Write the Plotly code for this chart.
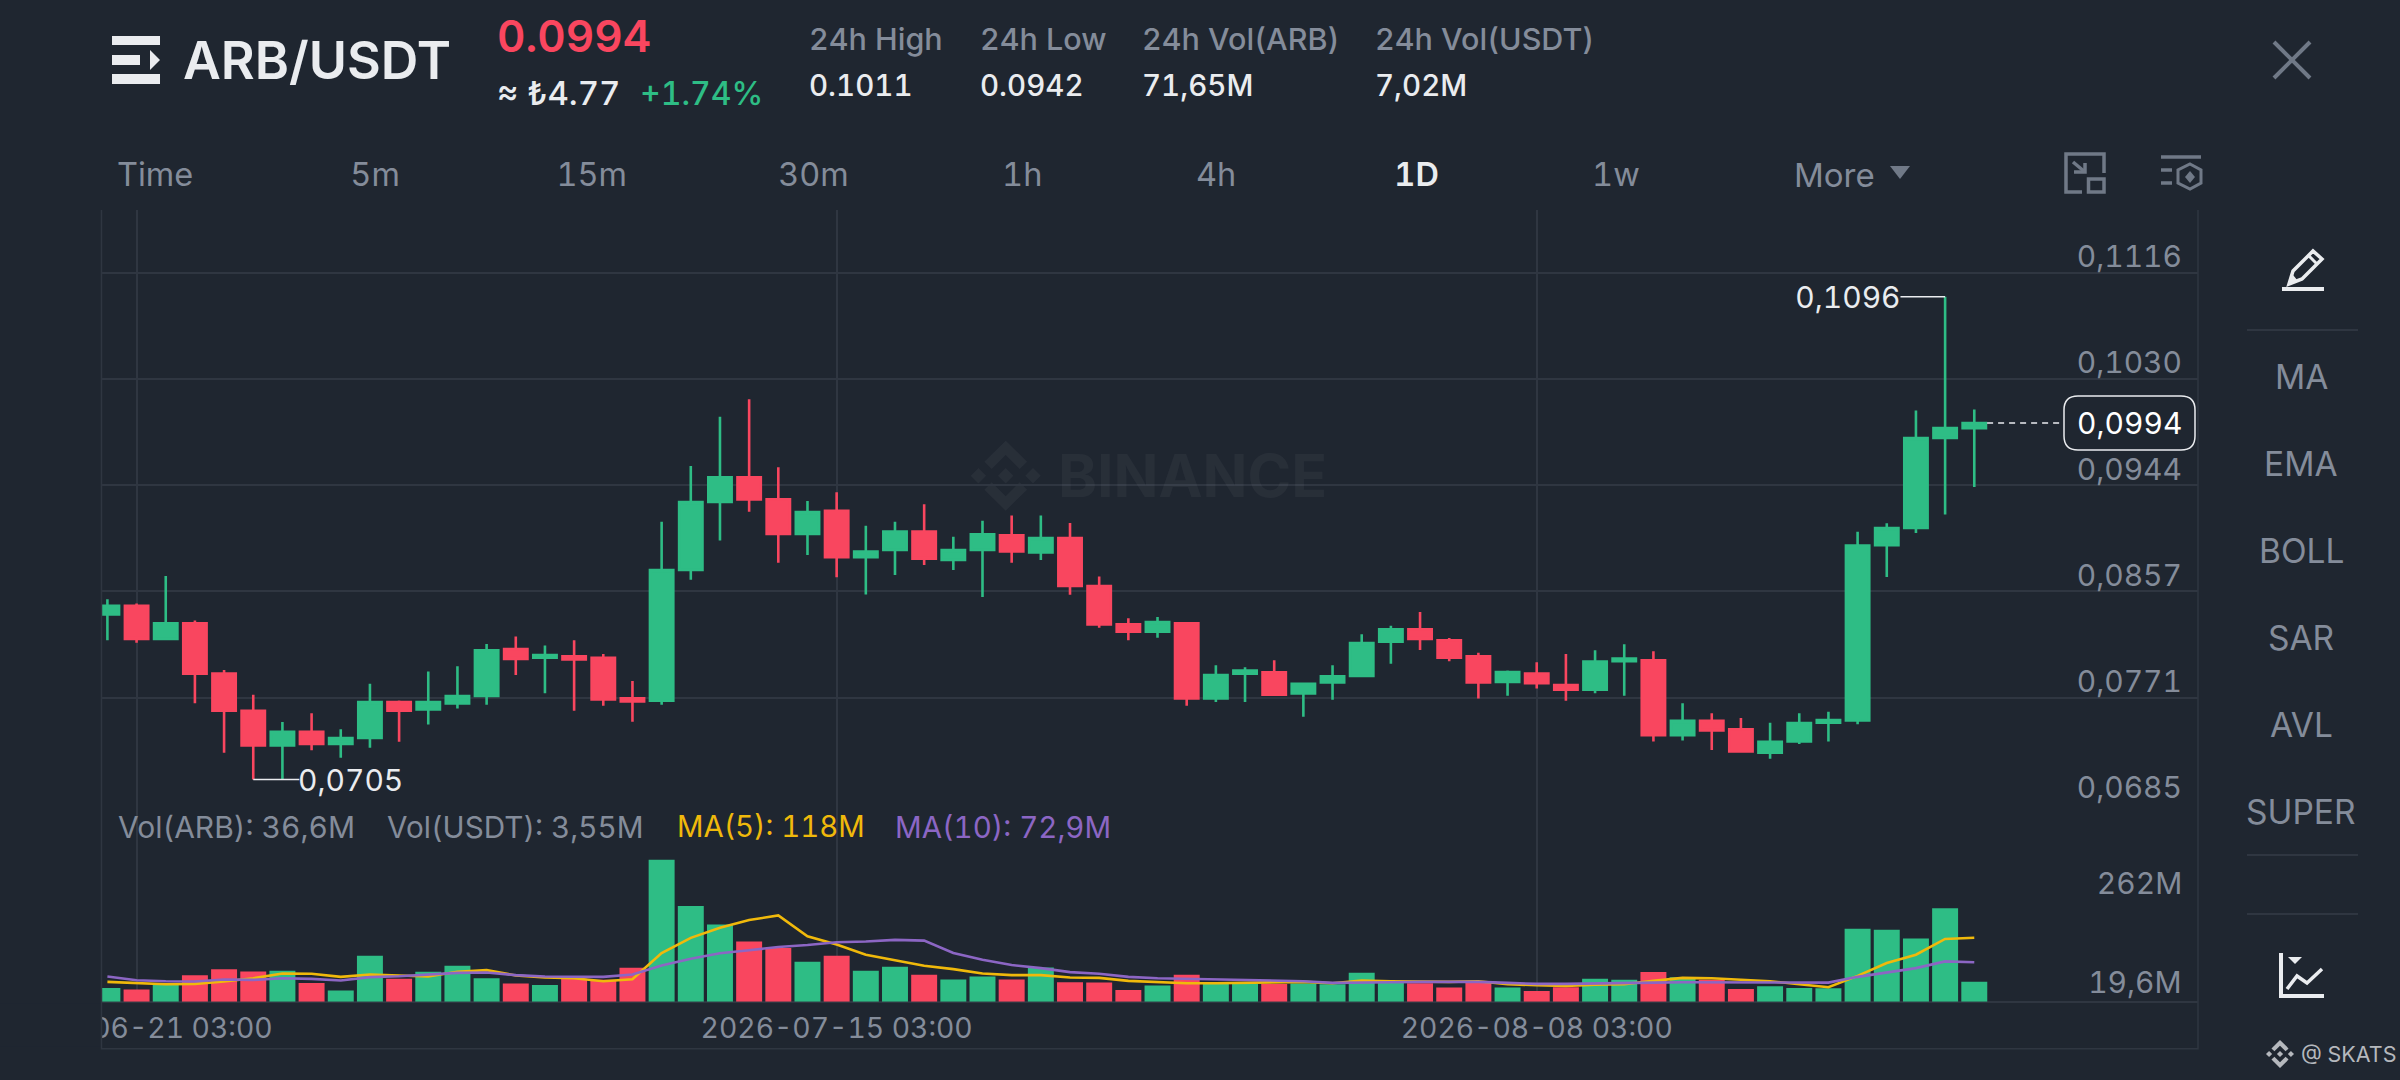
import pandas as pd
import plotly.graph_objects as go

# ---------- data ----------
first_day = "2026-06-20 03:00"
opens = [.08388,.08458,.08188,.08315,.07907,.07606,.07325,.07436,.07336,.07385,.07677,.07617,.07666,.07725,.08107,.08036,.08047,.08036,.07706,.07688,.08748,.09300,.09500,.09321,.09040,.09229,.08851,.08910,.09059,.08829,.08910,.09029,.08891,.09007,.08618,.08307,.08247,.08315,.07706,.07907,.07917,.07747,.07836,.07888,.08166,.08266,.08177,.08047,.07840,.07907,.07815,.07776,.08008,.08016,.07407,.07524,.07455,.07265,.07357,.07508,.07527,.08950,.09089,.09819,.09899]
closes = [.08458,.08188,.08315,.07907,.07606,.07325,.07436,.07336,.07385,.07677,.07606,.07677,.07725,.08096,.08026,.08058,.08023,.07698,.07682,.08748,.09300,.09500,.09321,.09040,.09218,.08851,.08897,.09059,.08840,.08910,.09037,.08899,.09007,.08618,.08307,.08247,.08326,.07706,.07896,.07931,.07736,.07825,.07885,.08155,.08266,.08188,.08036,.07836,.07919,.07829,.07776,.08005,.08030,.07407,.07524,.07446,.07276,.07354,.07505,.07530,.08947,.09089,.09819,.09899,.09941]
highs = [.08510,.08477,.08699,.08339,.07936,.07736,.07514,.07585,.07455,.07825,.07688,.07925,.07966,.08147,.08209,.08136,.08177,.08066,.07847,.09140,.09592,.09992,.10133,.09581,.09308,.09378,.09107,.09140,.09281,.09018,.09148,.09189,.09189,.09129,.08696,.08356,.08366,.08326,.07974,.07958,.08015,.07836,.07974,.08226,.08296,.08407,.08196,.08077,.07932,.07999,.08066,.08097,.08145,.08089,.07667,.07586,.07547,.07508,.07586,.07597,.09058,.09128,.10042,.10964,.10050]
lows = [.08177,.08158,.08188,.07666,.07266,.07047,.07047,.07285,.07225,.07306,.07355,.07495,.07625,.07655,.07896,.07747,.07606,.07647,.07517,.07655,.08669,.08988,.09221,.08807,.08869,.08688,.08550,.08707,.08788,.08748,.08529,.08807,.08829,.08548,.08280,.08177,.08199,.07647,.07677,.07677,.07736,.07558,.07696,.07888,.07988,.08099,.08007,.07706,.07728,.07787,.07686,.07748,.07728,.07357,.07365,.07287,.07265,.07217,.07337,.07357,.07496,.08690,.09047,.09198,.09422]
volumes = [25.4,22.3,31,49,60.1,55.8,57,34.7,20.5,84.9,42.2,55.2,66.3,43.4,33.5,31,42.2,40.3,62.6,262,176.7,142.6,111,99.2,73.8,84.9,57,64.5,49.6,40.9,46.5,40.9,63.2,36,35.3,21.7,29.8,49.6,32.9,32.9,32.9,33.5,32.2,53.3,37.2,34.1,26,37.2,26,19.6,26.7,42.2,40.3,54.6,45.3,40.3,23.6,28.5,25.4,24.8,134.5,132.7,116.6,172.4,36.6]
ma5 = [36.6,34.1,32.2,32.9,37.2,43.4,52.1,51.5,45.9,50.2,49,46.5,55.2,58.3,48.4,44.6,43.4,37.8,41.5,89.9,117.8,136.4,150.7,159.3,120.9,105.4,86.8,76.3,66.3,60.1,52.1,49,49,44.6,44,38.4,36.6,34.1,34.1,35.3,36.6,36.6,34.1,39.1,37.8,37.2,36.6,37.8,32.2,30.4,29.1,31.6,32.2,38.4,44,43.4,40.3,37.8,32.2,26.7,47.7,71.3,86.8,115.9,118]
ma10 = [46.5,39.7,37.8,37.2,40.9,40.3,43.4,42.2,39.1,45.3,47.1,50.2,53.3,53.9,49,46.5,45.9,45.9,50.2,67,79.4,89.3,94.9,101.1,104.8,109.7,111,114.1,112.8,89.9,77.5,67.6,62,54.6,51.5,45.9,43.4,42.2,40.3,39.7,38.4,37.8,34.7,36,36,36.6,37.2,36.6,34.7,32.9,32.9,34.1,34.7,35.3,36,36,35.3,34.7,35.3,35.3,45.9,54.6,62,74.4,72.9]
price_ticks = [0.1116, 0.10298, 0.09436, 0.08574, 0.07712, 0.0685]
time_ticks = ["2026-06-21 03:00", "2026-07-15 03:00", "2026-08-08 03:00"]
last_price = 0.09941
low_point = 0.07047
high_point = 0.10964

# ---------- styling ----------
W, H = 2400, 1080
BG = "#1F2630"
GRID = "#2F3641"
GREEN = "#2EBD85"
RED = "#F9465F"
GREY = "#848C9A"
WHITE = "#EAECEF"
ICON = "#707987"
YELLOW = "#F0B90B"
PURPLE = "#8C66C4"
FONT = "Inter"

L, R = 101.5, 2198.0
TOP, PRICE_BOTTOM, VOL_BOTTOM, FRAME_BOTTOM = 210.0, 803.9, 1001.7, 1048.7
DAY_PX = 29.17
FIRST_PX = 107.4
PRICE_PER_PX = 8.114e-5
VOL_PER_PX = 1 / 0.5417

def fx(p): return p / W
def fy(p): return 1 - p / H

dates = pd.date_range(first_day, periods=len(opens), freq="D")
d0 = pd.Timestamp(first_day)
x_range = [d0 + pd.Timedelta(days=(L - FIRST_PX) / DAY_PX), d0 + pd.Timedelta(days=(R - FIRST_PX) / DAY_PX)]
price_range = [0.0685, 0.1116 + (272.7 - TOP) * PRICE_PER_PX]
vol_range = [0, (VOL_BOTTOM - PRICE_BOTTOM) * VOL_PER_PX]
bar_colors = [GREEN if c >= o else RED for o, c in zip(opens, closes)]

fig = go.Figure()
fig.add_trace(go.Candlestick(
    x=dates, open=opens, high=highs, low=lows, close=closes, xaxis="x", yaxis="y",
    increasing=dict(line=dict(color=GREEN, width=2.6), fillcolor=GREEN),
    decreasing=dict(line=dict(color=RED, width=2.6), fillcolor=RED),
    whiskerwidth=0, hoverinfo="skip"))
fig.add_trace(go.Bar(x=dates, y=volumes, marker=dict(color=bar_colors, line_width=0), xaxis="x2", yaxis="y2", hoverinfo="skip"))
fig.add_trace(go.Scatter(x=dates, y=ma5, mode="lines", line=dict(color=YELLOW, width=2.6), xaxis="x2", yaxis="y2", hoverinfo="skip"))
fig.add_trace(go.Scatter(x=dates, y=ma10, mode="lines", line=dict(color=PURPLE, width=2.6), xaxis="x2", yaxis="y2", hoverinfo="skip"))

shapes, annotations = [], []

def path(points, closed=False, color=None, width=0, fill=None, layer="above"):
    d = "M " + " L ".join(f"{fx(x):.5f},{fy(y):.5f}" for x, y in points) + (" Z" if closed else "")
    shapes.append(dict(type="path", xref="paper", yref="paper", path=d, layer=layer,
                       line=dict(color=color or "rgba(0,0,0,0)", width=width),
                       fillcolor=fill or "rgba(0,0,0,0)"))

def text(x, y, s, size, color=GREY, weight=400, anchor="left"):
    annotations.append(dict(xref="paper", yref="paper", x=fx(x), y=fy(y), text=s, showarrow=False,
                            xanchor=anchor, yanchor="middle", align=anchor,
                            font=dict(family=FONT, size=size, color=color, weight=weight)))

def diamonds(cx, cy, r, fill, layer="above"):
    def pts(lst): return [(cx + a * r, cy + b * r) for a, b in lst]
    top = [(0, -1), (.61, -.4), (.4, -.19), (0, -.59), (-.4, -.19), (-.61, -.4)]
    path(pts(top), True, fill=fill, layer=layer)
    path(pts([(a, -b) for a, b in top]), True, fill=fill, layer=layer)
    for c in (-.78, 0, .78):
        path(pts([(c - .22, 0), (c, -.22), (c + .22, 0), (c, .22)]), True, fill=fill, layer=layer)

# frame and pane rules
path([(L, TOP), (L, FRAME_BOTTOM), (R, FRAME_BOTTOM), (R, TOP)], color=GRID, width=1.5)

# mask for the clipped first time label
shapes.insert(0, dict(type="rect", xref="paper", yref="paper", x0=0, x1=fx(L), y0=fy(FRAME_BOTTOM - 2), y1=fy(VOL_BOTTOM + 2),
                      fillcolor=BG, line_width=0, layer="above"))

# header
path([(112, 36), (160, 36), (160, 45), (112, 45)], True, fill=WHITE)
path([(112, 55), (140, 55), (140, 65), (112, 65)], True, fill=WHITE)
path([(150, 50), (160, 60), (150, 70)], True, fill=WHITE)
path([(112, 74), (160, 74), (160, 84), (112, 84)], True, fill=WHITE)
text(181, 61, "ARB/USDT", 52, WHITE, 600)
text(495, 36, "0.0994", 44, RED, 600)
text(495, 93, "≈ ₺4.77", 33, WHITE, 500)
text(638, 93, "+1.74%", 32, GREEN, 500)
for x, head, val in [(807, "24h High", "0.1011"), (978, "24h Low", "0.0942"),
                     (1140, "24h Vol(ARB)", "71,65M"), (1373, "24h Vol(USDT)", "7,02M")]:
    text(x, 38, head, 30.5, GREY, 500)
    text(x, 85, val, 29.5, WHITE, 500)

# period tabs
for cx, tab, col, wgt in [(155, "Time", GREY, 400), (375, "5m", GREY, 400), (591, "15m", GREY, 400), (813, "30m", GREY, 400),
                          (1022, "1h", GREY, 400), (1216, "4h", GREY, 400), (1416, "1D", WHITE, 600), (1616, "1w", GREY, 400)]:
    text(cx, 175, tab, 32.5, col, wgt, "center")
text(1792, 175, "More", 33, GREY, 400)
path([(1890, 166), (1910, 166), (1900, 179)], True, fill=ICON)

# top-right icons
path([(2104, 173), (2104, 154), (2066, 154), (2066, 192), (2082, 192)], color=ICON, width=3.5)
path([(2088.5, 179), (2104, 179), (2104, 192), (2088.5, 192)], True, color=ICON, width=3.5)
path([(2073, 162), (2085, 172)], color=ICON, width=3.5)
path([(2085, 163), (2085, 172), (2074, 172)], color=ICON, width=3.5)
path([(2161, 157), (2201, 157)], color=ICON, width=3.5)
path([(2161, 170), (2172, 170)], color=ICON, width=3.5)
path([(2161, 183), (2172, 183)], color=ICON, width=3.5)
path([(2190, 164), (2201, 170), (2201, 183), (2190, 189), (2178, 183), (2178, 170)], True, color=ICON, width=3)
path([(2190, 171), (2195, 177), (2190, 183), (2185, 177)], True, fill=ICON)
path([(2274, 42), (2310, 78)], color=ICON, width=4)
path([(2310, 42), (2274, 78)], color=ICON, width=4)

# sidebar
path([(2289, 284), (2293, 271), (2313, 251), (2322, 259), (2302, 279)], True, color=WHITE, width=3.5)
path([(2308, 255), (2317, 264)], color=WHITE, width=3)
path([(2289, 284), (2293, 275), (2298, 281)], True, fill=WHITE)
path([(2282, 289), (2324, 289)], color=WHITE, width=4)
for y in (330, 855, 914):
    path([(2247, y), (2358, y)], color=GRID, width=2)
for y, s in [(377, "MA"), (464, "EMA"), (551, "BOLL"), (638, "SAR"), (725, "AVL"), (812, "SUPER")]:
    text(2301, y, s, 33.5, GREY, 400, "center")
path([(2281, 953), (2281, 996), (2324, 996)], color=WHITE, width=4)
path([(2287, 989), (2297, 976), (2307, 983), (2322, 969)], color=WHITE, width=3.5)
path([(2288, 957), (2302, 957), (2295, 964)], True, fill=WHITE)
diamonds(2280, 1054, 14, "#B5B8BD")
text(2299, 1054, "@ SKATS", 21.5, "#B5B8BD", 400)

# watermark
diamonds(1005.7, 475.7, 35, "rgba(255,255,255,0.045)", layer="below")
text(1056, 475.7, "BINANCE", 59, "rgba(255,255,255,0.045)", 700)

# legend row of the volume pane
text(116, 826.7, "Vol(ARB): 36,6M", 30)
text(385, 826.7, "Vol(USDT): 3,55M", 29.7)
text(675, 826.7, "MA(5): 118M", 29.3, YELLOW)
text(893, 826.7, "MA(10): 72,9M", 29.5, PURPLE)

# high / low call-outs
shapes.append(dict(type="line", xref="x", yref="y", x0=dates[5], x1=dates[5] + pd.Timedelta(days=1.58),
                   y0=low_point, y1=low_point, line=dict(color=WHITE, width=1.5)))
annotations.append(dict(xref="x", yref="y", x=dates[5] + pd.Timedelta(days=1.47), y=low_point, text="0,0705", showarrow=False,
                        xanchor="left", align="left", yanchor="middle", font=dict(family=FONT, size=30, color=WHITE)))
shapes.append(dict(type="line", xref="x", yref="y", x0=dates[63], x1=dates[63] - pd.Timedelta(days=1.53),
                   y0=high_point, y1=high_point, line=dict(color=WHITE, width=1.5)))
annotations.append(dict(xref="x", yref="y", x=dates[63] - pd.Timedelta(days=1.45), y=high_point, text="0,1096", showarrow=False,
                        xanchor="right", align="right", yanchor="middle", font=dict(family=FONT, size=30, color=WHITE)))

# current price
shapes.append(dict(type="line", xref="x", yref="y", x0=dates[64] + pd.Timedelta(days=.44), x1=dates[64] + pd.Timedelta(days=3.05),
                   y0=last_price, y1=last_price, line=dict(color=WHITE, width=1.5, dash="6px,5px")))
x0b, x1b, y0b, y1b, rb = 2064, 2195, 396, 450, 14
d = (f"M {fx(x0b+rb)},{fy(y0b)} L {fx(x1b-rb)},{fy(y0b)} Q {fx(x1b)},{fy(y0b)} {fx(x1b)},{fy(y0b+rb)} "
     f"L {fx(x1b)},{fy(y1b-rb)} Q {fx(x1b)},{fy(y1b)} {fx(x1b-rb)},{fy(y1b)} L {fx(x0b+rb)},{fy(y1b)} "
     f"Q {fx(x0b)},{fy(y1b)} {fx(x0b)},{fy(y1b-rb)} L {fx(x0b)},{fy(y0b+rb)} Q {fx(x0b)},{fy(y0b)} {fx(x0b+rb)},{fy(y0b)} Z")
shapes.append(dict(type="path", xref="paper", yref="paper", path=d, fillcolor=BG, line=dict(color=WHITE, width=1.5)))
text(2130, 423, "0,0994", 30, "#FFFFFF", 400, "center")

# volume extremes
for val, lab, anc, shift in [(262, "262M", "top", -3), (19.6, "19,6M", "bottom", -11)]:
    annotations.append(dict(xref="paper", yref="y2", x=fx(2183.5), y=val, text=lab, showarrow=False, xanchor="right", align="right",
                            yanchor=anc, yshift=shift, font=dict(family=FONT, size=30, color=GREY)))

axis_common = dict(type="date", range=x_range, showline=False, zeroline=False, fixedrange=True, automargin=False)
fig.update_layout(
    width=W, height=H, margin=dict(l=0, r=0, t=0, b=0), autosize=False,
    paper_bgcolor=BG, plot_bgcolor=BG, showlegend=False, separators=",.",
    boxgap=0.2, boxgroupgap=0, bargap=0.11, font=dict(family=FONT),
    xaxis=dict(domain=[fx(L), fx(R)], anchor="y", showticklabels=False, rangeslider=dict(visible=False),
               tickmode="array", tickvals=time_ticks, showgrid=True, gridcolor=GRID, gridwidth=1.5, ticks="", **axis_common),
    yaxis=dict(domain=[fy(PRICE_BOTTOM), fy(TOP)], anchor="x", range=price_range, side="right", automargin=False,
               tickmode="array", tickvals=price_ticks, tickformat=".4f", ticklabelposition="inside top",
               ticklabelstandoff=13, ticklabelshift=5, ticklabeloverflow="allow", ticks="", showgrid=True, gridcolor=GRID,
               gridwidth=1.5, zeroline=False, tickfont=dict(family=FONT, size=30, color=GREY), fixedrange=True),
    xaxis2=dict(domain=[fx(L), fx(R)], anchor="y2", tickmode="array", tickvals=time_ticks, tickformat="%Y-%m-%d %H:%M",
                tickangle=0, ticks="", ticklabelstandoff=7, showgrid=True, gridcolor=GRID, gridwidth=1.5,
                tickfont=dict(family=FONT, size=28.3, color=GREY), **axis_common),
    yaxis2=dict(domain=[fy(VOL_BOTTOM), fy(PRICE_BOTTOM)], anchor="x2", range=vol_range, showticklabels=False, automargin=False,
                showgrid=False, zeroline=True, zerolinecolor=GRID, zerolinewidth=1.5, fixedrange=True),
    shapes=shapes, annotations=annotations,
)
page_script = ("document.body.style.margin='0';"
               "var s=document.createElement('style');"
               "s.textContent='svg text{font-variant-numeric:tabular-nums !important;}';"
               "document.head.appendChild(s);")
fig.write_html("out.html", config=dict(displayModeBar=False), post_script=page_script)
